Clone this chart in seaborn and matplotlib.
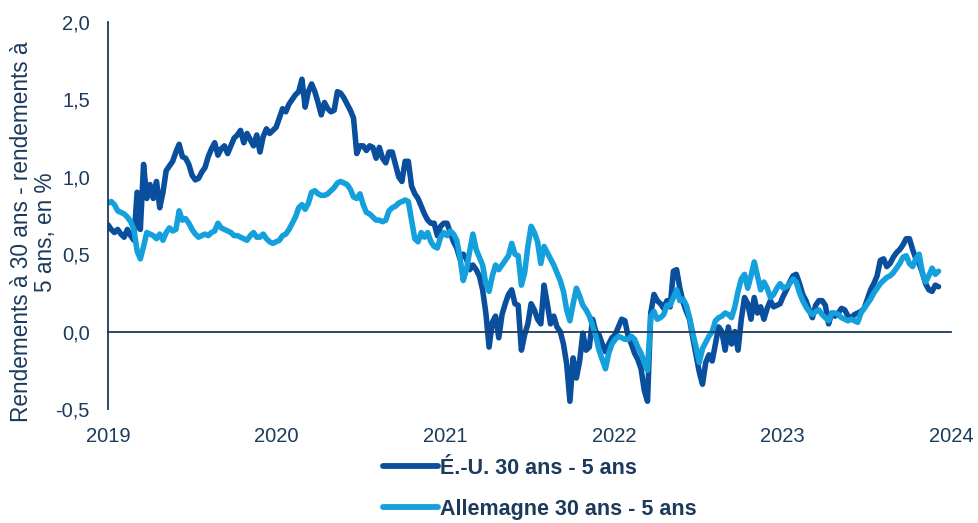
import numpy as np
import pandas as pd
import matplotlib
matplotlib.use("Agg")
import matplotlib.pyplot as plt
import seaborn as sns

# ---- data (weekly readings, starting 2019-01-01) ----
start_date = "2019-01-01"
us_30_5 = [
    0.69, 0.66, 0.64, 0.66, 0.63, 0.61, 0.66, 0.62, 0.59, 0.90,
    0.66, 1.08, 0.86, 0.95, 0.86, 0.97, 0.80, 0.90, 1.04, 1.07,
    1.10, 1.16, 1.21, 1.13, 1.12, 1.08, 1.01, 0.98, 0.99, 1.03,
    1.06, 1.13, 1.18, 1.22, 1.14, 1.18, 1.20, 1.15, 1.20, 1.25,
    1.27, 1.30, 1.22, 1.28, 1.24, 1.20, 1.27, 1.16, 1.26, 1.31,
    1.28, 1.30, 1.32, 1.38, 1.44, 1.42, 1.47, 1.50, 1.53, 1.55,
    1.63, 1.45, 1.55, 1.60, 1.55, 1.48, 1.40, 1.48, 1.44, 1.42,
    1.43, 1.55, 1.54, 1.51, 1.47, 1.43, 1.38, 1.15, 1.20, 1.20,
    1.17, 1.20, 1.19, 1.12, 1.19, 1.12, 1.09, 1.16, 1.16, 1.08,
    1.00, 0.97, 1.10, 1.10, 0.94, 0.89, 0.86, 0.81, 0.76, 0.72,
    0.70, 0.70, 0.62, 0.68, 0.70, 0.70, 0.64, 0.58, 0.54, 0.47,
    0.50, 0.47, 0.40, 0.43, 0.40, 0.36, 0.27, 0.12, -0.10, 0.06,
    0.10, -0.04, 0.11, 0.18, 0.24, 0.27, 0.18, 0.17, -0.12, -0.02,
    0.05, 0.18, 0.14, 0.08, 0.05, 0.30, 0.18, 0.05, 0.10, 0.03,
    0.00, -0.08, -0.21, -0.45, -0.17, -0.30, -0.19, -0.01, -0.12, -0.10,
    0.08, 0.00, -0.02, -0.08, -0.13, -0.08, -0.04, -0.02, 0.03, 0.08,
    0.07, -0.03, -0.08, -0.14, -0.18, -0.24, -0.38, -0.45, 0.12, 0.24,
    0.20, 0.18, 0.15, 0.20, 0.16, 0.39, 0.40, 0.28, 0.19, 0.13,
    0.08, -0.04, -0.15, -0.26, -0.34, -0.20, -0.15, -0.19, -0.08, 0.03,
    0.00, -0.12, 0.03, -0.08, 0.00, -0.12, 0.08, 0.22, 0.18, 0.08,
    0.22, 0.12, 0.16, 0.08, 0.15, 0.20, 0.16, 0.17, 0.18, 0.23,
    0.27, 0.32, 0.36, 0.37, 0.31, 0.24, 0.20, 0.14, 0.09, 0.17,
    0.20, 0.20, 0.17, 0.05, 0.12, 0.10, 0.12, 0.15, 0.14, 0.10,
    0.09, 0.11, 0.12, 0.13, 0.15, 0.21, 0.27, 0.31, 0.36, 0.46,
    0.47, 0.42, 0.44, 0.48, 0.51, 0.53, 0.56, 0.60, 0.60, 0.53,
    0.47, 0.44, 0.38, 0.31, 0.27, 0.26, 0.30, 0.29,
]
de_30_5 = [
    0.83, 0.84, 0.82, 0.78, 0.77, 0.76, 0.74, 0.71, 0.66, 0.52,
    0.47, 0.55, 0.64, 0.63, 0.62, 0.60, 0.63, 0.59, 0.64, 0.67,
    0.65, 0.66, 0.78, 0.72, 0.73, 0.70, 0.66, 0.63, 0.61, 0.62,
    0.63, 0.62, 0.64, 0.65, 0.70, 0.67, 0.66, 0.65, 0.64, 0.62,
    0.62, 0.61, 0.60, 0.59, 0.62, 0.64, 0.61, 0.61, 0.63, 0.60,
    0.58, 0.57, 0.58, 0.59, 0.62, 0.63, 0.66, 0.70, 0.74, 0.80,
    0.82, 0.79, 0.83, 0.90, 0.91, 0.89, 0.88, 0.88, 0.89, 0.91,
    0.93, 0.96, 0.97, 0.96, 0.95, 0.92, 0.87, 0.86, 0.89, 0.82,
    0.77, 0.76, 0.74, 0.72, 0.72, 0.71, 0.72, 0.78, 0.80, 0.81,
    0.83, 0.84, 0.85, 0.84, 0.72, 0.60, 0.58, 0.64, 0.61, 0.64,
    0.58, 0.55, 0.54, 0.61, 0.64, 0.62, 0.65, 0.63, 0.59, 0.48,
    0.33, 0.40, 0.52, 0.63, 0.53, 0.48, 0.43, 0.31, 0.26, 0.36,
    0.43, 0.40, 0.43, 0.46, 0.49, 0.57, 0.50, 0.49, 0.30, 0.38,
    0.55, 0.68, 0.64, 0.58, 0.44, 0.55, 0.51, 0.47, 0.43, 0.38,
    0.33, 0.26, 0.14, 0.07, 0.18, 0.28, 0.23, 0.17, 0.14, 0.10,
    0.04, -0.03, -0.12, -0.18, -0.24, -0.14, -0.08, -0.05, -0.03, -0.04,
    -0.05, -0.05, -0.03, -0.05, -0.10, -0.14, -0.20, -0.25, 0.10, 0.13,
    0.08, 0.09, 0.11, 0.17, 0.17, 0.22, 0.27, 0.20, 0.21, 0.17,
    0.09, -0.01, -0.10, -0.20, -0.11, -0.07, -0.03, 0.00, 0.07, 0.09,
    0.10, 0.12, 0.11, 0.09, 0.16, 0.26, 0.34, 0.37, 0.28, 0.36,
    0.45, 0.36, 0.27, 0.32, 0.28, 0.22, 0.24, 0.28, 0.31, 0.28,
    0.29, 0.31, 0.34, 0.32, 0.25, 0.20, 0.16, 0.13, 0.11, 0.13,
    0.14, 0.11, 0.09, 0.07, 0.12, 0.12, 0.11, 0.09, 0.08, 0.07,
    0.08, 0.07, 0.06, 0.12, 0.15, 0.18, 0.21, 0.25, 0.28, 0.31,
    0.33, 0.35, 0.36, 0.38, 0.41, 0.44, 0.48, 0.49, 0.44, 0.42,
    0.47, 0.50, 0.38, 0.32, 0.36, 0.41, 0.37, 0.39,
]
series_names = ["É.-U. 30 ans - 5 ans", "Allemagne 30 ans - 5 ans"]
series_colors = ["#0a4f9e", "#14a0dc"]
year_ticks = [2019, 2020, 2021, 2022, 2023, 2024]
year_labels = ["2019", "2020", "2021", "2022", "2023", "2024"]
y_ticks = [-0.5, 0.0, 0.5, 1.0, 1.5, 2.0]
y_label = "Rendements à 30 ans - rendements à\n5 ans, en %"

# ---- build table ----
dates = pd.date_range(start_date, periods=len(us_30_5), freq="7D")
days_in_year = np.where(dates.is_leap_year, 366, 365)
t = dates.year + (dates.dayofyear - 1) / days_in_year
n = len(t)
df = pd.DataFrame({
    "t": np.concatenate([t, t]),
    "v": us_30_5 + de_30_5,
    "serie": [series_names[0]] * n + [series_names[1]] * n,
})

sns.set_style("white")
plt.rcParams["font.family"] = ["Liberation Sans", "DejaVu Sans"]
navy = "#1b3a5c"

fig = plt.figure(figsize=(9.79, 5.23), dpi=100)
ax = fig.add_axes([108 / 979, 1 - 409 / 523, 843 / 979, 387 / 523])

sns.lineplot(data=df, x="t", y="v", hue="serie", hue_order=series_names,
             palette=series_colors, estimator=None, sort=False, lw=4.0,
             ax=ax, legend=True, solid_joinstyle="round",
             solid_capstyle="round")

ax.set_xlim(2019, 2024)
ax.set_ylim(-0.5, 2.0)
ax.set_xlabel("")

for s in ["top", "right"]:
    ax.spines[s].set_visible(False)
ax.spines["bottom"].set_position(("data", 0))
for s in ["bottom", "left"]:
    ax.spines[s].set_color(navy)
    ax.spines[s].set_linewidth(1.3)

ax.set_xticks(year_ticks)
ax.tick_params(axis="x", length=5, width=1.3, direction="out", color=navy,
               labelbottom=False)
ax.set_yticks(y_ticks)
ax.set_yticklabels([f"{v:.1f}".replace(".", ",") for v in y_ticks])
ax.tick_params(axis="y", length=5, width=1.3, direction="out", color=navy,
               labelcolor=navy, labelsize=14.5, pad=8)

sec = ax.secondary_xaxis("bottom")
sec.set_xticks(year_ticks)
sec.set_xticklabels(year_labels)
sec.tick_params(length=0, pad=13, labelsize=14.5, labelcolor=navy)
sec.spines["bottom"].set_visible(False)

ax.set_ylabel(y_label, fontsize=16.3, color=navy, linespacing=1.06)
ax.yaxis.set_label_coords(-0.060, 0.457)

old = ax.get_legend()
handles = old.legend_handles
labels = [tx.get_text() for tx in old.get_texts()]
old.remove()
leg = fig.legend(handles, labels, loc="upper left",
                 bbox_to_anchor=(383 / 979, 1 - 458 / 523),
                 frameon=False, prop={"weight": "bold", "size": 15.5},
                 labelcolor=navy, handlelength=2.55, handletextpad=0.1,
                 labelspacing=0.92, borderpad=0, borderaxespad=0)
for ln in leg.get_lines():
    ln.set_linewidth(4.2)
    ln.set_solid_capstyle("round")

fig.savefig("out.png", dpi=100)
